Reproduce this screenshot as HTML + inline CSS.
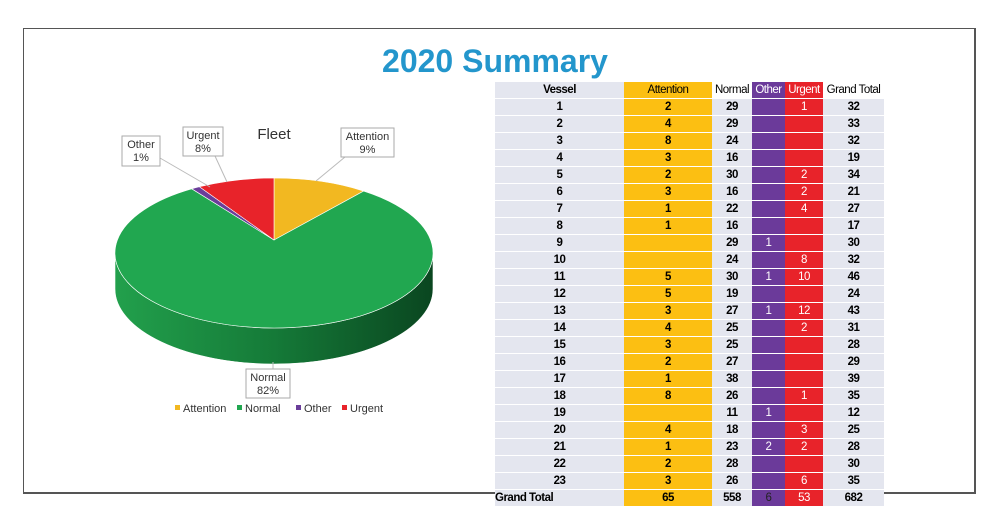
<!DOCTYPE html>
<html><head><meta charset="utf-8">
<style>
body{margin:0;width:995px;height:512px;background:#fff;font-family:"Liberation Sans",sans-serif;position:relative;overflow:hidden}
#frame{position:absolute;left:23px;top:28px;width:950px;height:463px;border:1.5px solid #555;border-bottom-width:2px;border-right-width:2px}
#title{position:absolute;left:330px;width:330px;top:43px;text-align:center;color:#2396cc;font-weight:bold;font-size:32px}
table{position:absolute;left:495px;top:82px;border-collapse:collapse;font-size:11.5px;font-weight:bold;letter-spacing:-0.5px}
td{height:16px;padding:0;text-align:center;border-bottom:1px solid #fff;line-height:16px}
.g{background:#e4e6ef}.a{background:#fcbf12}.o{background:#6b3a9a;color:#fff;font-weight:normal}.u{background:#e8232a;color:#fff;font-weight:normal}
svg{position:absolute;left:0;top:0}
</style></head><body>
<div id="frame"></div>
<div id="title">2020 Summary</div>
<svg id="pie" width="995" height="512"></svg>
<table id="tbl">
<tr><td class="g" style="width:129px">Vessel</td><td class="a" style="width:88px;font-weight:normal">Attention</td><td class="g" style="width:40px;background:#fff;font-weight:normal">Normal</td><td class="o" style="width:33px">Other</td><td class="u" style="width:38px">Urgent</td><td class="g" style="width:61px;background:#fff;font-weight:normal">Grand Total</td></tr>
</table>
<script>
const vessels=[1,2,3,4,5,6,7,8,9,10,11,12,13,14,15,16,17,18,19,20,21,22,23];
const attention=[2,4,8,3,2,3,1,1,null,null,5,5,3,4,3,2,1,8,null,4,1,2,3];
const normal=[29,29,24,16,30,16,22,16,29,24,30,19,27,25,25,27,38,26,11,18,23,28,26];
const other=[null,null,null,null,null,null,null,null,1,null,1,null,1,null,null,null,null,null,1,null,2,null,null];
const urgent=[1,null,null,null,2,2,4,null,null,8,10,null,12,2,null,null,null,1,null,3,2,null,6];
const pctLabels=['9%','82%','1%','8%'];
const tbl=document.getElementById('tbl');
function addRow(vals,name,isTotal){
  const tr=document.createElement('tr');
  
  
  const cls=['g','a','g','o','u','g'];
  vals.forEach((v,i)=>{const td=document.createElement('td');td.className=cls[i];td.textContent=v==null?'':v;
    if(isTotal&&i==0){td.style.textAlign='left';}
    if(isTotal&&(i==3)){td.style.color='#222';}
    tr.appendChild(td);});
  tbl.appendChild(tr);
}
const sum=a=>a.reduce((s,v)=>s+(v||0),0);
vessels.forEach((v,i)=>{const t=(attention[i]||0)+normal[i]+(other[i]||0)+(urgent[i]||0);addRow([v,attention[i],normal[i],other[i],urgent[i],t],'vessel-row-'+v,false);});
const tA=sum(attention),tN=sum(normal),tO=sum(other),tU=sum(urgent);
addRow(['Grand Total',tA,tN,tO,tU,tA+tN+tO+tU],'grand-total-row',true);

const cats=['Attention','Normal','Other','Urgent'];
const vals=[tA,tN,tO,tU];
const cols=['#f2b821','#21a750','#6a3d9a','#e8232a'];
const NS='http://www.w3.org/2000/svg';
const svg=document.getElementById('pie');
const ax=274,ay=240,cx=274,cy=253,rx=159,ry=75,dep=36;
function pt(t){return [cx+rx*Math.sin(t),cy-ry*Math.cos(t)];}
function mk(tag,attrs){const e=document.createElementNS(NS,tag);for(const k in attrs)e.setAttribute(k,attrs[k]);svg.appendChild(e);return e;}
const defs=mk('defs',{});
defs.innerHTML='<linearGradient id="sg" x1="0" x2="1"><stop offset="0" stop-color="#22a04c"/><stop offset="0.5" stop-color="#157a38"/><stop offset="1" stop-color="#0a4620"/></linearGradient>';
const side=mk('path',{d:`M${cx-rx},${cy} A${rx},${ry} 0 0 0 ${cx+rx},${cy} L${cx+rx},${cy+dep} A${rx},${ry} 0 0 1 ${cx-rx},${cy+dep} Z`,fill:'url(#sg)',stroke:'#fff','stroke-width':0.6});


const tot=sum(vals);let a0=0;
vals.forEach((v,i)=>{const a1=a0+v/tot*2*Math.PI;const p0=pt(a0),p1=pt(a1);const lg=(a1-a0)>Math.PI?1:0;
  const s=mk('path',{d:`M${ax},${ay} L${p0[0]},${p0[1]} A${rx},${ry} 0 ${lg} 1 ${p1[0]},${p1[1]} Z`,fill:cols[i],stroke:'#fff','stroke-width':0.6});
  
  
  a0=a1;});
const ft=mk('text',{x:274,y:139,'text-anchor':'middle','font-size':15,fill:'#333'});ft.textContent='Fleet';


const boxes=[[341,128,53,29],[246,369,44,29],[122,136,38,30],[183,127,40,29]];
const leadEnd=[[316,181],[273,362],[210,187],[227,182]];
const leadStart=[[345,157],[273,369],[160,158],[215,156]];
boxes.forEach((b,i)=>{
  const l=mk('line',{x1:leadStart[i][0],y1:leadStart[i][1],x2:leadEnd[i][0],y2:leadEnd[i][1],stroke:'#bbb','stroke-width':1});
  
  
  const r=mk('rect',{x:b[0],y:b[1],width:b[2],height:b[3],fill:'#fff',stroke:'#aaa','stroke-width':1});
  
  
  const t=mk('text',{x:b[0]+b[2]/2,y:b[1]+12,'text-anchor':'middle','font-size':11,fill:'#333'});
  t.innerHTML=`<tspan x="${b[0]+b[2]/2}">${cats[i]}</tspan><tspan x="${b[0]+b[2]/2}" dy="13">${pctLabels[i]}</tspan>`;
  
  
});
const lx=[175,237,296,342];
cats.forEach((c,i)=>{
  const r=mk('rect',{x:lx[i],y:405,width:5,height:5,fill:cols[i]});
  
  
  const t=mk('text',{x:lx[i]+8,y:412,'font-size':11,fill:'#333'});t.textContent=c;
  
  
});
</script>
</body></html>
